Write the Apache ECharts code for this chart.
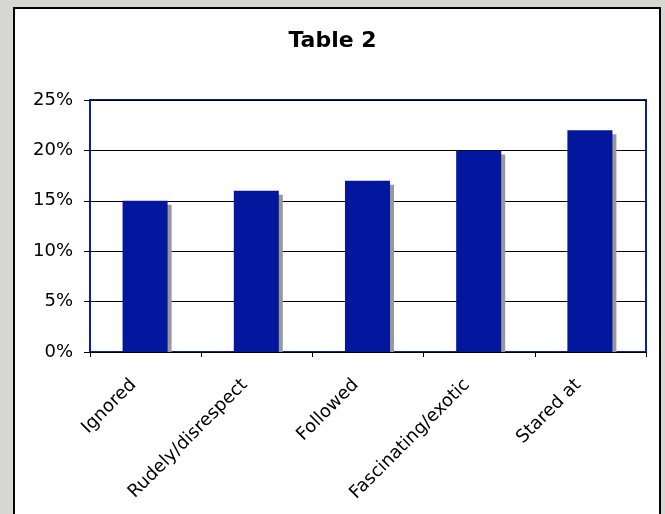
<!DOCTYPE html>
<html>
<head>
<meta charset="utf-8">
<script src="https://cdn.jsdelivr.net/npm/echarts@6/dist/echarts.min.js"></script>
<style>
html,body{margin:0;padding:0;background:#d6d7d0;width:665px;height:514px;overflow:hidden;}
#panel{position:absolute;left:13px;top:7px;width:648px;height:520px;border:2px solid #000;background:#fff;box-sizing:border-box;}
#chart{position:absolute;left:0;top:0;width:665px;height:514px;}
</style>
</head>
<body>
<div id="panel"></div>
<div id="chart"></div>
<script>
const categories = ['Ignored', 'Rudely/disrespect', 'Followed', 'Fascinating/exotic', 'Stared at'];
const values = [15, 16, 17, 20, 22];
const yTicks = [0, 5, 10, 15, 20, 25];

const chart = echarts.init(document.getElementById('chart'), null, {renderer: 'canvas'});
chart.setOption({
  animation: false,
  backgroundColor: 'transparent',
  title: {
    text: 'Table 2',
    left: 'center',
    top: 25,
    textStyle: {fontFamily: 'DejaVu Sans', fontSize: 22, fontWeight: 'bold', color: '#000'}
  },
  grid: {
    left: 90, top: 100, right: 19, bottom: 162,
    show: true, borderColor: '#0a1ea8', borderWidth: 2, backgroundColor: 'transparent'
  },
  xAxis: {
    type: 'category',
    data: categories,
    axisLine: {lineStyle: {color: '#000', width: 1}},
    axisTick: {show: true, length: 5, lineStyle: {color: '#000'}},
    axisLabel: {
      rotate: 45, fontFamily: 'DejaVu Sans', fontSize: 18, color: '#000', margin: 18,
      formatter: function (v) { return v + '   '; }
    }
  },
  yAxis: {
    type: 'value',
    min: yTicks[0], max: yTicks[yTicks.length - 1], interval: 5,
    axisLine: {show: true, lineStyle: {color: '#0a1ea8', width: 2}},
    axisTick: {show: true, length: 6, lineStyle: {color: '#000'}},
    splitLine: {lineStyle: {color: '#000', width: 1}},
    axisLabel: {formatter: '{value}%', fontFamily: 'DejaVu Sans', fontSize: 18, color: '#000', margin: 17}
  },
  series: [{
    type: 'custom',
    data: values.map((v, i) => [i, v]),
    encode: {x: 0, y: 1},
    z: 3,
    renderItem: function (params, api) {
      const i = api.value(0), v = api.value(1);
      const top = api.coord([i, v]);
      const base = api.coord([i, 0]);
      const w = api.size([1, 0])[0] * 0.405;
      const x = top[0] - w / 2 - 0.5;
      const h = base[1] - top[1];
      return {
        type: 'group',
        children: [
          {type: 'rect', shape: {x: x + 4, y: top[1] + 4, width: w, height: h - 4}, style: {fill: '#999999'}},
          {type: 'rect', shape: {x: x, y: top[1], width: w, height: h}, style: {fill: '#03179e'}}
        ]
      };
    }
  }]
});
</script>
</body>
</html>
